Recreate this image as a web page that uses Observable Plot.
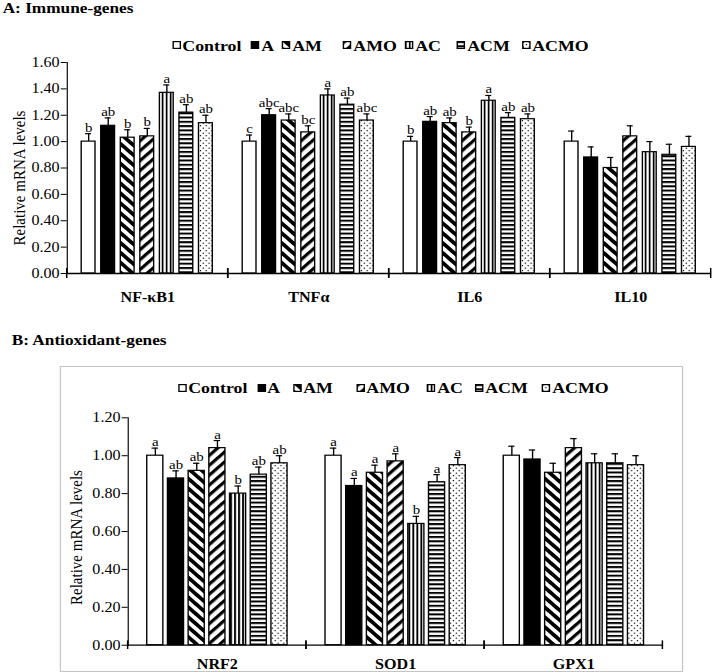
<!DOCTYPE html>
<html>
<head>
<meta charset="utf-8">
<script src="https://cdn.jsdelivr.net/npm/d3@7"></script>
<script src="https://cdn.jsdelivr.net/npm/@observablehq/plot@0.6"></script>
<style>
  html, body { margin: 0; padding: 0; background: #fff; }
  body { width: 714px; height: 672px; overflow: hidden; position: relative;
         font-family: "Liberation Serif", "Times New Roman", serif; color: #000; }
  /* the figure is laid out narrow and widened as a whole */
  #page { position: absolute; left: 0; top: 0; width: 621px; height: 672px;
          transform: scaleX(1.15); transform-origin: 0 0; }
  .title { position: absolute; font-weight: bold; font-size: 15px; line-height: 15px; white-space: nowrap; }
  .legend-item { position: absolute; display: flex; align-items: center; font-weight: bold;
                 font-size: 15.5px; line-height: 15.5px; white-space: nowrap; }
  .legend-item svg { display: block; margin-right: 1.5px; }
  .chart { position: absolute; left: 0; }
  .box { position: absolute; border: 1.5px solid #c4c4c4; box-sizing: border-box; }
  g[aria-label^="fx-axis"] text { font-weight: bold; }
</style>
</head>
<body>
<svg width="0" height="0" style="position:absolute">
  <defs>
    <pattern id="fill-am" patternUnits="userSpaceOnUse" width="7" height="7" patternTransform="rotate(-45)">
      <rect width="7" height="7" fill="white"/>
      <line x1="1.75" y1="0" x2="1.75" y2="7" stroke="black" stroke-width="3.5"/>
    </pattern>
    <pattern id="fill-amo" patternUnits="userSpaceOnUse" width="7" height="7" patternTransform="rotate(45)">
      <rect width="7" height="7" fill="white"/>
      <line x1="1.5" y1="0" x2="1.5" y2="7" stroke="black" stroke-width="3"/>
    </pattern>
    <pattern id="fill-ac" patternUnits="userSpaceOnUse" width="3.5" height="4">
      <rect width="3.5" height="4" fill="white"/>
      <line x1="0.8" y1="0" x2="0.8" y2="4" stroke="black" stroke-width="1.6"/>
    </pattern>
    <pattern id="fill-acm" patternUnits="userSpaceOnUse" width="4" height="4.3">
      <rect width="4" height="4.3" fill="white"/>
      <line x1="0" y1="1" x2="4" y2="1" stroke="black" stroke-width="2"/>
    </pattern>
    <pattern id="fill-acmo" patternUnits="userSpaceOnUse" width="5" height="5">
      <rect width="5" height="5" fill="white"/>
      <circle cx="1.2" cy="1.2" r="0.65" fill="black"/>
      <circle cx="3.7" cy="3.7" r="0.65" fill="black"/>
    </pattern>
  </defs>
</svg>
<div id="page"></div>
<script>
// Treatment groups, in legend and bar order
const groups = ["Control", "A", "AM", "AMO", "AC", "ACM", "ACMO"];

// A: immune genes
const immuneGenes = ["NF-κB1", "TNFα", "IL6", "IL10"];
const immuneMeans = [
  [1.00, 1.12, 1.03, 1.04, 1.37, 1.22, 1.14],
  [1.00, 1.20, 1.16, 1.07, 1.35, 1.28, 1.16],
  [1.00, 1.15, 1.14, 1.07, 1.31, 1.18, 1.17],
  [1.00, 0.88, 0.80, 1.04, 0.92, 0.90, 0.96]
];
const immuneErrors = [
  [0.06, 0.06, 0.06, 0.06, 0.06, 0.06, 0.06],
  [0.05, 0.05, 0.05, 0.05, 0.05, 0.05, 0.05],
  [0.04, 0.04, 0.04, 0.04, 0.04, 0.04, 0.04],
  [0.08, 0.08, 0.08, 0.08, 0.08, 0.08, 0.08]
];
const immuneLetters = [
  ["b", "ab", "b", "b", "a", "ab", "ab"],
  ["c", "abc", "abc", "bc", "a", "ab", "abc"],
  ["b", "ab", "ab", "b", "a", "ab", "ab"],
  ["", "", "", "", "", "", ""]
];
const immuneTicks = [0, 0.2, 0.4, 0.6, 0.8, 1.0, 1.2, 1.4, 1.6];

// B: antioxidant genes
const antioxGenes = ["NRF2", "SOD1", "GPX1"];
const antioxMeans = [
  [1.00, 0.88, 0.92, 1.04, 0.80, 0.90, 0.96],
  [1.00, 0.84, 0.91, 0.97, 0.64, 0.86, 0.95],
  [1.00, 0.98, 0.91, 1.04, 0.96, 0.96, 0.95]
];
const antioxErrors = [
  [0.04, 0.04, 0.04, 0.04, 0.04, 0.04, 0.04],
  [0.04, 0.04, 0.04, 0.04, 0.04, 0.04, 0.04],
  [0.05, 0.05, 0.05, 0.05, 0.05, 0.05, 0.05]
];
const antioxLetters = [
  ["a", "ab", "ab", "a", "b", "ab", "ab"],
  ["a", "a", "a", "a", "b", "a", "a"],
  ["", "", "", "", "", "", ""]
];
const antioxTicks = [0, 0.2, 0.4, 0.6, 0.8, 1.0, 1.2];

// Fill for each group: plain colours or hatch patterns defined above
const groupFills = ["white", "black", "url(#fill-am)", "url(#fill-amo)", "url(#fill-ac)", "url(#fill-acm)", "url(#fill-acmo)"];

const Y_LABEL = "Relative mRNA levels";
const FONT = '"Liberation Serif", "Times New Roman", serif';
const page = document.getElementById("page");

function tidy(genes, means, errors, letters) {
  return genes.flatMap((gene, i) => groups.map((group, j) => ({
    gene, group, value: means[i][j], err: errors[i][j], letter: letters[i][j]
  })));
}

// Short ticks crossing the baseline at both edges of every gene block
function blockEdges(tickHalf) {
  return (index, scales, values, dims) => {
    const y0 = scales.y(0);
    const g = d3.create("svg:g").attr("stroke", "black").attr("stroke-width", 1.3);
    for (const x of [dims.marginLeft, dims.width - dims.marginRight]) {
      g.append("line").attr("x1", x).attr("x2", x).attr("y1", y0 - tickHalf).attr("y2", y0 + tickHalf);
    }
    return g.node();
  };
}

function barChart(cfg) {
  const data = tidy(cfg.genes, cfg.means, cfg.errors, cfg.letters);
  const facetW = (cfg.width - cfg.marginLeft - cfg.marginRight) / cfg.genes.length;
  const step = facetW / (groups.length - cfg.padInner + 2 * cfg.padOuter);
  const bw = step * (1 - cfg.padInner);
  const capInset = Math.max(0, (bw - 6) / 2);
  const svg = Plot.plot({
    width: cfg.width,
    height: cfg.height,
    marginLeft: cfg.marginLeft,
    marginRight: cfg.marginRight,
    marginTop: cfg.marginTop,
    marginBottom: cfg.marginBottom,
    style: { fontFamily: FONT, fontSize: "14px", color: "black", background: "transparent", overflow: "visible" },
    facet: { data, x: "gene" },
    fx: { domain: cfg.genes, padding: 0, label: null, tickSize: 0, tickPadding: cfg.fxPad, axis: "bottom" },
    x: { domain: groups, paddingInner: cfg.padInner, paddingOuter: cfg.padOuter, axis: null },
    y: {
      domain: [0, cfg.ticks[cfg.ticks.length - 1]],
      ticks: cfg.ticks,
      tickFormat: d => d.toFixed(2),
      tickSize: 5.2,
      tickPadding: 1.5,
      line: true,
      label: Y_LABEL,
      labelAnchor: "center",
      labelOffset: cfg.labelOffset,
      labelArrow: false
    },
    color: { type: "ordinal", domain: groups, range: groupFills },
    marks: [
      Plot.barY(data, { x: "group", y: "value", fill: "group", stroke: "black", strokeWidth: 1.2 }),
      Plot.ruleX(data, { x: "group", y1: "value", y2: d => d.value + d.err, stroke: "black", strokeWidth: 1.2 }),
      Plot.tickY(data, { x: "group", y: d => d.value + d.err, insetLeft: capInset, insetRight: capInset, stroke: "black", strokeWidth: 1.2 }),
      Plot.text(data, { x: "group", y: d => d.value + d.err, text: "letter", dy: -2, lineAnchor: "bottom", fontSize: 13, fill: "black" }),
      Plot.ruleY([0], { stroke: "black", strokeWidth: 1.3 }),
      blockEdges(cfg.tickHalf)
    ]
  });
  // the rotated axis title sits a little below the middle of the axis
  for (const t of svg.querySelectorAll("text")) {
    if (t.textContent === Y_LABEL) {
      t.style.fontSize = "15px";
      t.setAttribute("dx", -cfg.labelShift);
    }
  }
  return svg;
}

function addTitle(text, left, top) {
  const d = document.createElement("div");
  d.className = "title";
  d.textContent = text;
  d.style.left = left + "px";
  d.style.top = top + "px";
  page.appendChild(d);
}

function addLegend(lefts, top) {
  groups.forEach((g, i) => {
    const item = document.createElement("div");
    item.className = "legend-item";
    item.style.left = lefts[i] + "px";
    item.style.top = top + "px";
    const sw = d3.create("svg").attr("width", 7.4).attr("height", 8).attr("overflow", "visible");
    sw.append("rect").attr("x", 0.6).attr("y", 0.6).attr("width", 6.2).attr("height", 6.8)
      .attr("fill", groupFills[i]).attr("stroke", "black").attr("stroke-width", 1.2);
    item.appendChild(sw.node());
    const t = document.createElement("span");
    t.textContent = g;
    item.appendChild(t);
    page.appendChild(item);
  });
}

// Panel A
addTitle("A: Immune-genes", 2.3, 1);
addLegend([149.6, 218.3, 245.2, 298.3, 352.2, 397.4, 453.9], 37.7);
const chartA = barChart({
  genes: immuneGenes, means: immuneMeans, errors: immuneErrors, letters: immuneLetters, ticks: immuneTicks,
  width: 621, height: 256, marginLeft: 57.4, marginRight: 1.8, marginTop: 10, marginBottom: 35,
  padInner: 0.27, padOuter: 0.645, fxPad: 19, labelOffset: 47, labelShift: 10, tickHalf: 5
});
chartA.classList.add("chart");
chartA.style.top = "52px";
page.appendChild(chartA);

// Panel B, framed
const box = document.createElement("div");
box.className = "box";
Object.assign(box.style, { left: "52.2px", top: "365.5px", width: "541.7px", height: "306px" });
page.appendChild(box);
addTitle("B: Antioxidant-genes", 10.2, 333.2);
addLegend([154.8, 223.5, 254.8, 309.6, 371.3, 413.0, 471.3], 380);
const chartB = barChart({
  genes: antioxGenes, means: antioxMeans, errors: antioxErrors, letters: antioxLetters, ticks: antioxTicks,
  width: 621, height: 264, marginLeft: 110.4, marginRight: 43.6, marginTop: 10.3, marginBottom: 26.3,
  padInner: 0.21, padOuter: 0.87, fxPad: 13.5, labelOffset: 51, labelShift: 6, tickHalf: 4.3
});
chartB.classList.add("chart");
chartB.style.top = "407px";
page.appendChild(chartB);
</script>
</body>
</html>
